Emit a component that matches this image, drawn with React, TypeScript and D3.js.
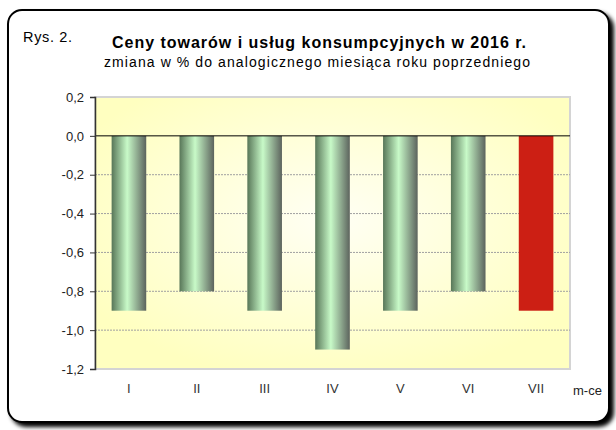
import React, { useEffect, useRef } from "react";
import * as d3 from "d3";

const months = ["I", "II", "III", "IV", "V", "VI", "VII"];
const values = [-0.9, -0.8, -0.9, -1.1, -0.9, -0.8, -0.9];
const yTicks = [0.2, 0, -0.2, -0.4, -0.6, -0.8, -1.0, -1.2];

const App = () => {
  const svgRef = useRef<SVGSVGElement>(null);

  useEffect(() => {
    const svg = d3.select(svgRef.current);
    svg.selectAll("*").remove();

    const width = 616;
    const height = 430;
    const margin = { top: 97, right: 46, bottom: 61, left: 95 };
    const chartWidth = width - margin.left - margin.right;
    const chartHeight = height - margin.top - margin.bottom;
    const font = "Arial, 'Liberation Sans', sans-serif";

    const defs = svg.append("defs");

    const shadow = defs.append("filter").attr("id", "shadow").attr("x", "-5%").attr("y", "-5%").attr("width", "115%").attr("height", "115%");
    shadow.append("feGaussianBlur").attr("in", "SourceAlpha").attr("stdDeviation", 2);
    shadow.append("feOffset").attr("dx", 4).attr("dy", 4).attr("result", "b");
    const merge = shadow.append("feMerge");
    merge.append("feMergeNode").attr("in", "b");
    merge.append("feMergeNode").attr("in", "SourceGraphic");

    const bg = defs.append("radialGradient").attr("id", "bg").attr("cx", "0.5").attr("cy", "0.45").attr("r", "0.6");
    bg.append("stop").attr("offset", "0%").attr("stop-color", "#fffff4");
    bg.append("stop").attr("offset", "100%").attr("stop-color", "#ffffc0");

    const bar = defs.append("linearGradient").attr("id", "bar").attr("x1", "0").attr("x2", "1");
    bar.append("stop").attr("offset", "0%").attr("stop-color", "#587658");
    bar.append("stop").attr("offset", "45%").attr("stop-color", "#c8fac8");
    bar.append("stop").attr("offset", "100%").attr("stop-color", "#5c635d");

    // frame
    svg.append("rect")
      .attr("x", 8).attr("y", 10).attr("width", 601).attr("height", 412)
      .attr("rx", 14).attr("fill", "#fff").attr("stroke", "#000").attr("stroke-width", 2)
      .attr("filter", "url(#shadow)");

    svg.append("text").attr("x", 23).attr("y", 42).attr("font-family", font)
      .attr("font-size", 14.5).attr("fill", "#000")
      .attr("textLength", 49).attr("lengthAdjust", "spacing").text("Rys. 2.");

    svg.append("text").attr("x", 112).attr("y", 48)
      .attr("font-family", font).attr("font-size", 16).attr("font-weight", "bold")
      .attr("textLength", 414).attr("lengthAdjust", "spacing")
      .text("Ceny towarów i usług konsumpcyjnych w 2016 r.");
    svg.append("text").attr("x", 104).attr("y", 67)
      .attr("font-family", font).attr("font-size", 14)
      .attr("textLength", 426).attr("lengthAdjust", "spacing")
      .text("zmiana w % do analogicznego miesiąca roku poprzedniego");

    const x = d3.scaleBand().domain(months).range([0, chartWidth]).paddingInner(0.49).paddingOuter(0.245);
    const y = d3.scaleLinear().domain([-1.2, 0.2]).range([chartHeight, 0]);

    const g = svg.append("g").attr("transform", `translate(${margin.left},${margin.top})`);

    g.append("rect").attr("width", chartWidth).attr("height", chartHeight)
      .attr("fill", "url(#bg)").attr("stroke", "#d4d4d4").attr("stroke-width", 2);

    g.append("g").selectAll("line").data(yTicks.filter((t) => t < 0 && t > -1.2)).join("line")
      .attr("x1", 0).attr("x2", chartWidth).attr("y1", (d) => y(d)).attr("y2", (d) => y(d))
      .attr("stroke", "#a0a0a0").attr("stroke-dasharray", "2,1").attr("stroke-width", 1);

    g.append("g").selectAll("rect").data(values).join("rect")
      .attr("x", (d, i) => x(months[i])!)
      .attr("y", y(0))
      .attr("width", x.bandwidth())
      .attr("height", (d) => y(d) - y(0))
      .attr("fill", (d, i) => (i === values.length - 1 ? "#cc1f14" : "url(#bar)"));

    g.append("line").attr("x1", 0).attr("x2", chartWidth).attr("y1", y(0)).attr("y2", y(0))
      .attr("stroke", "#000").attr("stroke-width", 1);

    const yAxis = g.append("g")
      .call(d3.axisLeft(y).tickValues(yTicks).tickSize(5).tickPadding(6)
        .tickFormat((d) => d3.format(".1f")(d as number).replace(".", ",").replace("−", "-")));
    yAxis.select(".domain").attr("stroke", "#333").attr("stroke-width", 1.5);
    yAxis.selectAll(".tick line").attr("stroke", "#333");
    yAxis.selectAll("text").attr("font-family", font).attr("font-size", 13).attr("fill", "#222");

    g.append("g").selectAll("text").data(months).join("text")
      .attr("x", (d) => x(d)! + x.bandwidth() / 2)
      .attr("y", chartHeight + 24)
      .attr("text-anchor", "middle")
      .attr("font-family", font).attr("font-size", 13).attr("fill", "#333")
      .text((d) => d);

    svg.append("text").attr("x", 573).attr("y", 395).attr("font-family", font)
      .attr("font-size", 13).attr("fill", "#222").text("m-ce");
  }, []);

  return <svg ref={svgRef} width={616} height={430} style={{ position: "absolute", left: 0, top: 0 }} />;
};

export default App;
